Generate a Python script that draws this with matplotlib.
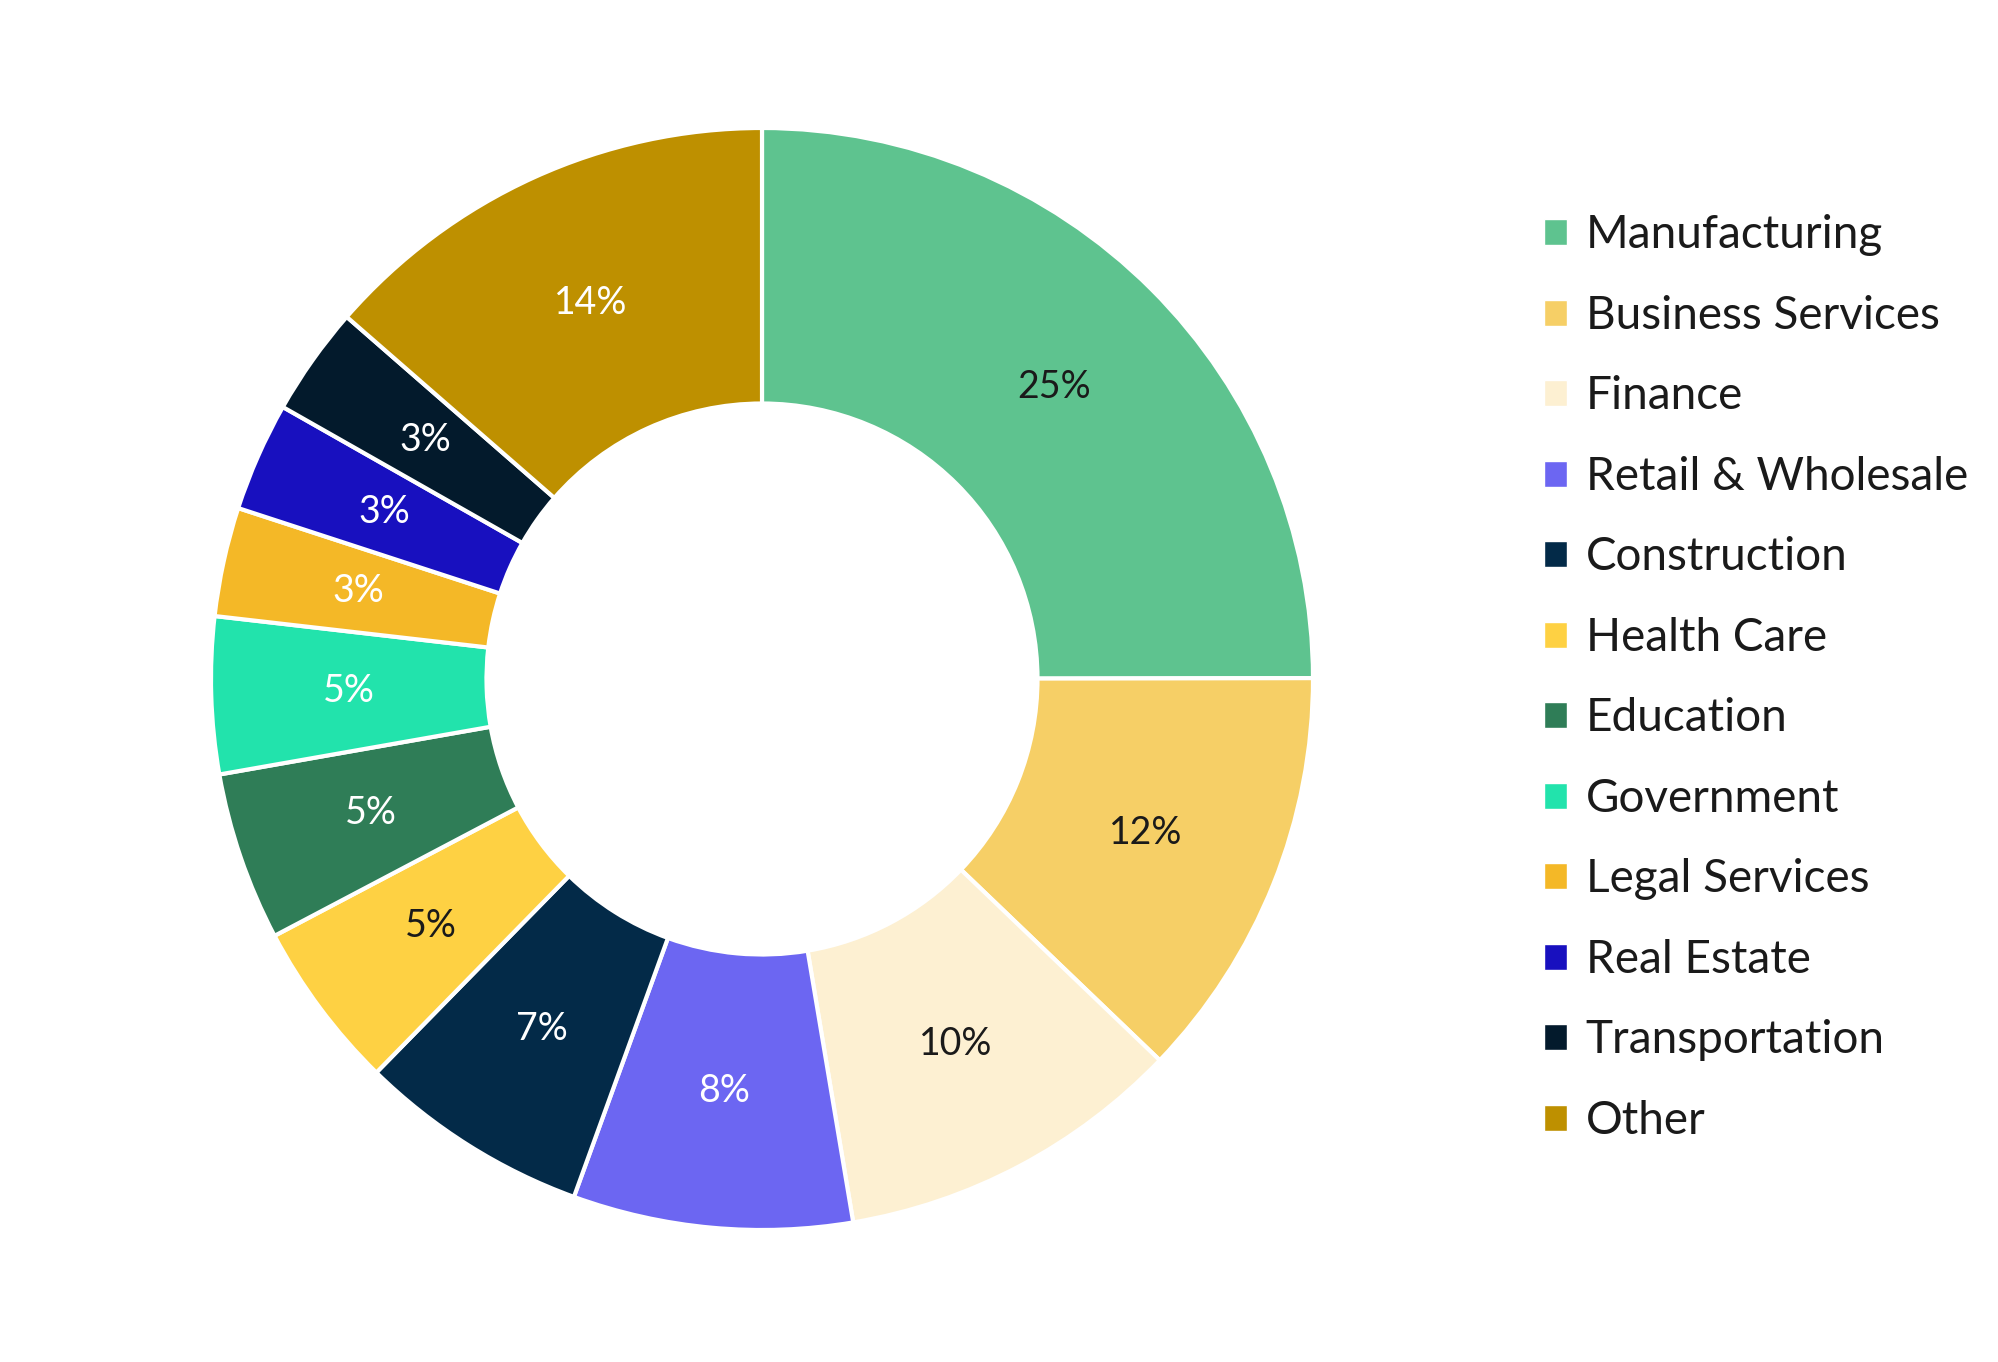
import matplotlib
matplotlib.use("Agg")
import matplotlib.pyplot as plt

plt.rcParams['font.family'] = ['Lato', 'DejaVu Sans']

categories = ["Manufacturing", "Business Services", "Finance", "Retail & Wholesale",
              "Construction", "Health Care", "Education", "Government",
              "Legal Services", "Real Estate", "Transportation", "Other"]
values = [25.0, 12.2, 10.2, 8.2, 6.8, 4.95, 4.95, 4.6, 3.2, 3.2, 3.2, 13.6]
colors = ["#5EC38F", "#F6CF66", "#FDF0D2", "#6C66F2", "#032A48", "#FED143",
          "#2F7D57", "#22E3AC", "#F4B827", "#1810BF", "#031A2C", "#BE9000"]
label_colors = ["#1a1a1a", "#1a1a1a", "#1a1a1a", "white", "white", "#1a1a1a",
                "white", "white", "white", "white", "white", "white"]

W, H = 1999, 1362
fig = plt.figure(figsize=(W / 100, H / 100), dpi=100)
cx, cy, R = 762, 679, 551
ax = fig.add_axes([(cx - R) / W, (H - cy - R) / H, 2 * R / W, 2 * R / H])

wedges, texts, autotexts = ax.pie(
    values, colors=colors, startangle=90, counterclock=False,
    radius=1.0, autopct=lambda p: f"{p:.0f}%", pctdistance=0.75,
    wedgeprops=dict(width=0.5, edgecolor="white", linewidth=3),
    textprops=dict(fontsize=27))
for t, c in zip(autotexts, label_colors):
    t.set_color(c)
ax.set_xlim(-1, 1)
ax.set_ylim(-1, 1)
ax.set_aspect("equal")
ax.axis("off")

leg = fig.legend(wedges, categories, loc="upper left",
                 bbox_to_anchor=(1526 / W, 1 - 196 / H),
                 frameon=False, fontsize=33, handlelength=0.5, handleheight=0.5,
                 handletextpad=0.4, labelspacing=0.84, borderaxespad=0)
for txt in leg.get_texts():
    txt.set_color("#1a1a1a")
for h in leg.legend_handles:
    h.set_linewidth(1)

fig.savefig("out.png", dpi=100, facecolor="white")
